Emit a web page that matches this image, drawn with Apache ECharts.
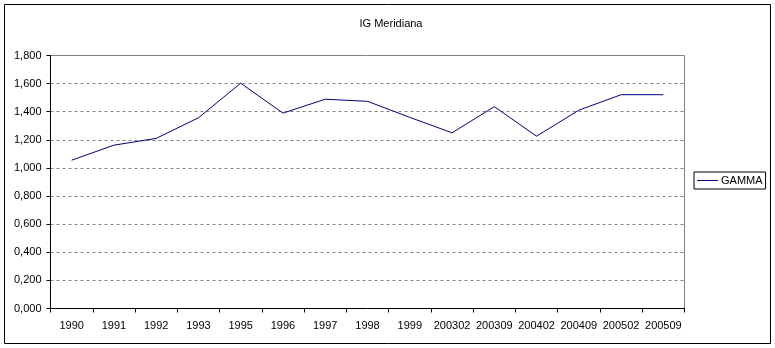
<!DOCTYPE html>
<html>
<head>
<meta charset="utf-8">
<script src="https://cdn.jsdelivr.net/npm/echarts@6/dist/echarts.min.js"></script>
<style>
  html, body { margin: 0; padding: 0; background: #fff; }
  #chart { width: 775px; height: 348px; }
</style>
</head>
<body>
<div id="chart"></div>
<script>
// Periods on the horizontal axis
const categories = ['1990', '1991', '1992', '1993', '1995', '1996', '1997', '1998', '1999',
  '200302', '200309', '200402', '200409', '200502', '200509'];
// GAMMA index values
const gammaValues = [1.055, 1.162, 1.21, 1.357, 1.603, 1.39, 1.489, 1.474, 1.36,
  1.25, 1.436, 1.226, 1.411, 1.521, 1.521];
const seriesName = 'GAMMA';
const chartTitle = 'IG Meridiana';

const FONT = '"Liberation Sans", Arial, sans-serif';
const chart = echarts.init(document.getElementById('chart'), null, { renderer: 'canvas' });

chart.setOption({
  animation: false,
  backgroundColor: '#ffffff',
  title: {
    text: chartTitle,
    left: 386,
    textAlign: 'center',
    top: 13,
    textStyle: { fontFamily: FONT, fontSize: 11, fontWeight: 'normal', color: '#000' }
  },
  graphic: [{
    type: 'rect',
    shape: { x: 4.5, y: 4.5, width: 766, height: 339 },
    style: { fill: 'none', stroke: '#000', lineWidth: 1 },
    silent: true,
    z: -1
  }],
  legend: {
    left: 694,
    top: 172,
    orient: 'vertical',
    borderColor: '#000',
    borderWidth: 1,
    padding: [3, 3, 3, 3],
    itemGap: 0,
    itemWidth: 21,
    itemHeight: 1,
    icon: 'rect',
    textStyle: { fontFamily: FONT, fontSize: 11, color: '#000', padding: [0, 0, 0, -2] },
    data: [seriesName]
  },
  grid: {
    left: 50.5,
    top: 55.5,
    width: 634,
    height: 253,
    show: true,
    borderColor: '#808080',
    borderWidth: 1,
    containLabel: false
  },
  xAxis: {
    type: 'category',
    data: categories,
    boundaryGap: true,
    axisLine: { lineStyle: { color: '#000', width: 1 } },
    axisTick: { show: true, inside: false, length: 4, lineStyle: { color: '#000' }, alignWithLabel: false },
    axisLabel: { fontFamily: FONT, fontSize: 11, color: '#000', margin: 12, interval: 0 },
    splitLine: { show: false }
  },
  yAxis: {
    type: 'value',
    min: 0,
    max: 1.8,
    interval: 0.2,
    axisLine: { show: true, lineStyle: { color: '#000', width: 1 } },
    axisTick: { show: true, inside: false, length: 4, lineStyle: { color: '#000' } },
    axisLabel: {
      fontFamily: FONT, fontSize: 11, color: '#000', margin: 9,
      formatter: v => v.toFixed(3).replace('.', ',')
    },
    splitLine: { show: true, lineStyle: { color: '#808080', type: [3, 3], width: 1 } }
  },
  series: [{
    name: seriesName,
    type: 'line',
    data: gammaValues,
    symbol: 'none',
    lineStyle: { color: '#000080', width: 1 },
    itemStyle: { color: '#000080' }
  }]
});
</script>
</body>
</html>
